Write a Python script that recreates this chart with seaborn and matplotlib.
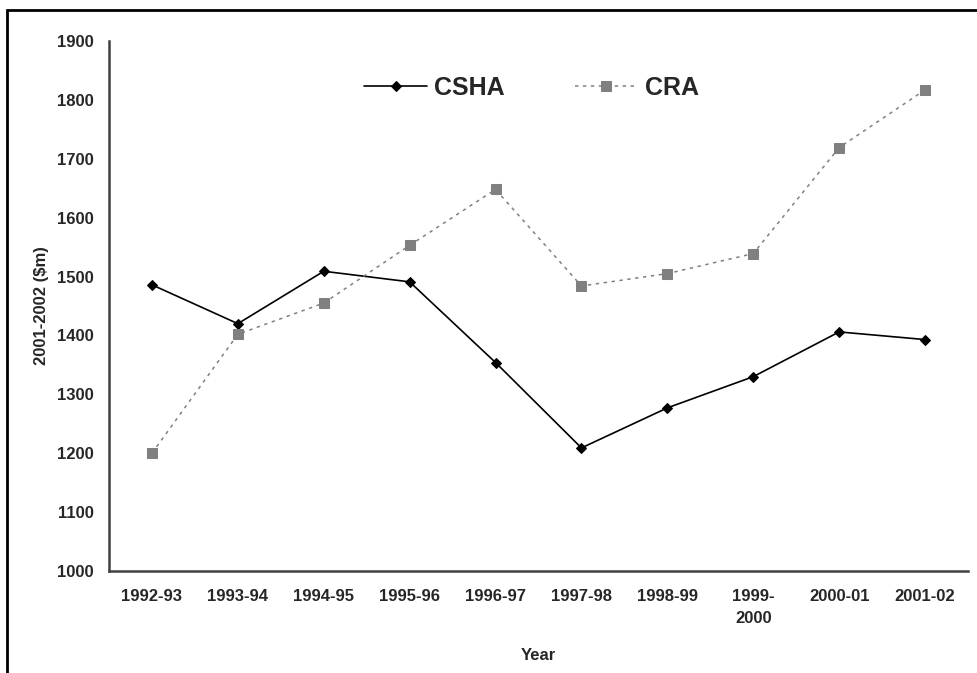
import numpy as np
import pandas as pd
import matplotlib
matplotlib.use("Agg")
import matplotlib.pyplot as plt
import matplotlib.patches as patches
import seaborn as sns

# data
years = ['1992-93', '1993-94', '1994-95', '1995-96', '1996-97',
         '1997-98', '1998-99', '1999-\n2000', '2000-01', '2001-02']
csha = [1486, 1420, 1509, 1491, 1354, 1209, 1277, 1330, 1406, 1393]
cra = [1200, 1402, 1455, 1553, 1648, 1484, 1505, 1539, 1719, 1817]
y_ticks = [1000, 1100, 1200, 1300, 1400, 1500, 1600, 1700, 1800, 1900]

sns.set_style("white")
plt.rcParams['font.family'] = ['Liberation Sans', 'DejaVu Sans']
plt.rcParams['font.weight'] = 'bold'

df = pd.DataFrame({'Year': years, 'CSHA': csha, 'CRA': cra})
df['pos'] = np.arange(len(years))

fig = plt.figure(figsize=(9.78, 6.73), dpi=100)
ax = fig.add_axes([109/978, (673-571)/673, (968-109)/978, (571-41)/673])

sns.lineplot(data=df, x='pos', y='CSHA', ax=ax, color='black', lw=1.2,
             marker='D', markersize=5.5, markeredgecolor='black', label='CSHA')
sns.lineplot(data=df, x='pos', y='CRA', ax=ax, color='#808080', lw=1.1,
             marker='s', markersize=6.5, markeredgecolor='#808080', label='CRA')
ax.lines[1].set_dashes((2.2, 3))

ax.set_xlim(-0.5, len(years) - 0.5)
ax.set_ylim(1000, 1900)
ax.set_yticks(y_ticks)
ax.set_yticklabels([str(v) for v in y_ticks], fontsize=12, fontweight='bold')

# ticks at category boundaries, labels in the middle
ax.set_xticks(np.arange(len(years) + 1) - 0.5)
ax.set_xticklabels([])
ax.set_xticks(df['pos'], minor=True)
ax.set_xticklabels(years, minor=True, fontsize=12, fontweight='bold')
for lab in ax.get_xticklabels(minor=True):
    lab.set_linespacing(1.6)
ax.tick_params(axis='x', which='major', direction='inout', length=10, width=1.8, color='#404040')
ax.tick_params(axis='x', which='minor', length=0, pad=13)
ax.tick_params(axis='y', direction='out', length=5, width=1.8, color='#404040', pad=6)

for side in ['top', 'right']:
    ax.spines[side].set_visible(False)
for side in ['left', 'bottom']:
    ax.spines[side].set_color('#404040')
    ax.spines[side].set_linewidth(1.8)

ax.set_xlabel('Year', fontsize=12, fontweight='bold', labelpad=16)
ax.set_ylabel('2001-2002 ($m)', fontsize=12, fontweight='bold', labelpad=6)

ax.legend(loc='center', bbox_to_anchor=(0.492, 0.911), ncol=2, frameon=False,
          handlelength=2.5, handletextpad=0.3, columnspacing=2.8,
          prop={'size': 18, 'weight': 'bold'})

# outer frame (left and top edges visible)
fig.patches.append(patches.Rectangle((7/978, -0.1), 1.2, (673-10)/673 + 0.1,
                                     transform=fig.transFigure, fill=False,
                                     edgecolor='black', lw=2))

fig.savefig('out.png', dpi=100)
